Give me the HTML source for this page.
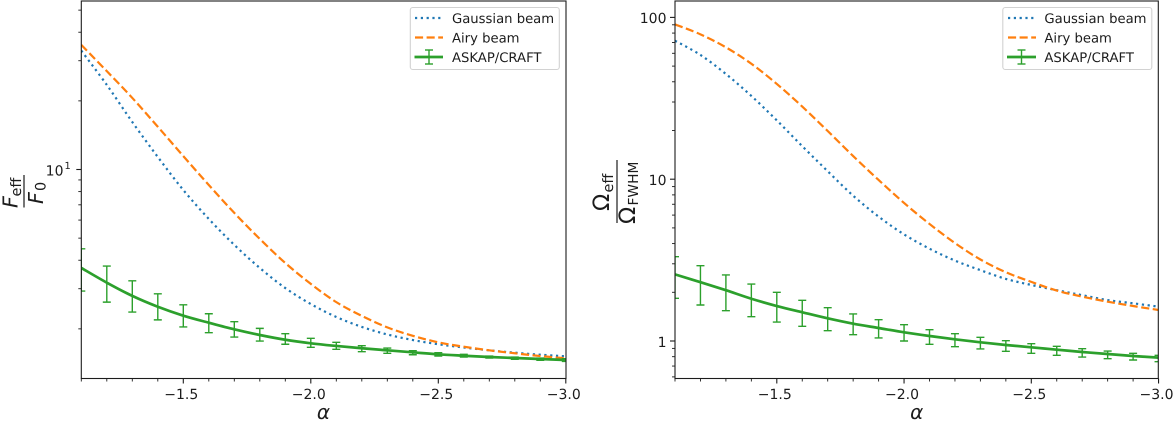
<!DOCTYPE html>
<html lang="en">
<head>
<meta charset="utf-8">
<title>Effective fluence and solid angle versus spectral index</title>
<style>
  html, body { margin: 0; padding: 0; background: #fff; }
  svg { display: block; text-rendering: geometricPrecision; }
  text { font-family: "DejaVu Sans", "Liberation Sans", sans-serif; fill: #1c1c1c; }
  .tick-text { font-size: 14px; }
  .legend-text { font-size: 13.2px; }
  .math { font-style: italic; }
</style>
</head>
<body>
<svg id="figure" xmlns="http://www.w3.org/2000/svg" width="1173" height="421" viewBox="0 0 1173 421">
  <defs>
    <clipPath id="clip-left"><rect x="81.3" y="1" width="484.7" height="377.5"/></clipPath>
    <clipPath id="clip-right"><rect x="675" y="1" width="483.3" height="377.5"/></clipPath>
  </defs>
  <g id="panel-left"></g>
  <g id="panel-right"></g>

  <g>
    <text class="math" x="0" y="0" font-size="20.6" transform="translate(17.5 208) rotate(-90)">F</text>
    <text x="0" y="0" font-size="14.4" transform="translate(21 196.5) rotate(-90)">eff</text>
    <line x1="24" y1="175" x2="24" y2="207.5" stroke="#1c1c1c" stroke-width="1.2"/>
    <text class="math" x="0" y="0" font-size="20.6" transform="translate(43 204) rotate(-90)">F</text>
    <text x="0" y="0" font-size="14.4" transform="translate(45.5 191) rotate(-90)">0</text>
  </g>
  <text class="math" x="323.5" y="419" font-size="20" text-anchor="middle">α</text>

  <g>
    <text x="0" y="0" font-size="22.5" transform="translate(609 211) rotate(-90)">Ω</text>
    <text x="0" y="0" font-size="14.4" transform="translate(613 192.5) rotate(-90)">eff</text>
    <line x1="617" y1="160" x2="617" y2="223" stroke="#1c1c1c" stroke-width="1.2"/>
    <text x="0" y="0" font-size="22.5" transform="translate(635 224) rotate(-90)">Ω</text>
    <text x="0" y="0" font-size="13.8" transform="translate(638 205.5) rotate(-90)">FWHM</text>
  </g>
  <text class="math" x="916.7" y="419" font-size="20" text-anchor="middle">α</text>

  <g>
    <rect x="410.3" y="7.5" width="149" height="62" rx="2.5" fill="#fff" fill-opacity="0.8" stroke="#d2d2d2" stroke-width="1.1"/>
    <g>
      <line x1="415" y1="18" x2="443" y2="18" stroke="#1f77b4" stroke-width="2.2" stroke-dasharray="2.2 3.6"/>
      <text class="legend-text" x="452" y="23">Gaussian beam</text>
    </g>
    <g>
      <line x1="415" y1="37.5" x2="443" y2="37.5" stroke="#ff7f0e" stroke-width="2.2" stroke-dasharray="8.1 3.5"/>
      <text class="legend-text" x="452" y="42.5">Airy beam</text>
    </g>
    <g>
      <line x1="414.5" y1="57" x2="443" y2="57" stroke="#2ca02c" stroke-width="2.8"/>
      <line x1="429" y1="50" x2="429" y2="64" stroke="#2ca02c" stroke-width="1.4"/>
      <line x1="425" y1="50" x2="433" y2="50" stroke="#2ca02c" stroke-width="1.4"/>
      <line x1="425" y1="64" x2="433" y2="64" stroke="#2ca02c" stroke-width="1.4"/>
      <text class="legend-text" x="452" y="62">ASKAP/CRAFT</text>
    </g>
  </g>

  <g>
    <rect x="1002.8" y="7.5" width="149" height="62" rx="2.5" fill="#fff" fill-opacity="0.8" stroke="#d2d2d2" stroke-width="1.1"/>
    <g>
      <line x1="1008" y1="18" x2="1036" y2="18" stroke="#1f77b4" stroke-width="2.2" stroke-dasharray="2.2 3.6"/>
      <text class="legend-text" x="1044.4" y="23">Gaussian beam</text>
    </g>
    <g>
      <line x1="1008" y1="37.5" x2="1036" y2="37.5" stroke="#ff7f0e" stroke-width="2.2" stroke-dasharray="8.1 3.5"/>
      <text class="legend-text" x="1044.4" y="42.5">Airy beam</text>
    </g>
    <g>
      <line x1="1007" y1="57" x2="1036" y2="57" stroke="#2ca02c" stroke-width="2.8"/>
      <line x1="1021.5" y1="50" x2="1021.5" y2="64" stroke="#2ca02c" stroke-width="1.4"/>
      <line x1="1017.5" y1="50" x2="1025.5" y2="50" stroke="#2ca02c" stroke-width="1.4"/>
      <line x1="1017.5" y1="64" x2="1025.5" y2="64" stroke="#2ca02c" stroke-width="1.4"/>
      <text class="legend-text" x="1044.4" y="62">ASKAP/CRAFT</text>
    </g>
  </g>
</svg>

<script>
const alphaValues = [-1.1,-1.2,-1.3,-1.4,-1.5,-1.6,-1.7,-1.8,-1.9,-2.0,-2.1,-2.2,-2.3,-2.4,-2.5,-2.6,-2.7,-2.8,-2.9,-3.0];
const xMajorTicks = [-1.5,-2.0,-2.5,-3.0];
const xMajorLabels = ['−1.5','−2.0','−2.5','−3.0'];
const xMinorTicks = [-1.1,-1.2,-1.3,-1.4,-1.6,-1.7,-1.8,-1.9,-2.1,-2.2,-2.3,-2.4,-2.6,-2.7,-2.8,-2.9];

const fluenceGaussian = [33.2,23.5,16.15,11.35,8.13,6.07,4.67,3.70,3.02,2.57,2.255,2.04,1.89,1.787,1.712,1.657,1.61,1.572,1.54,1.516];
const fluenceAiry = [35.2,27.0,20.6,15.4,11.45,8.55,6.45,4.96,3.89,3.15,2.62,2.28,2.03,1.865,1.746,1.67,1.61,1.563,1.52,1.486];
const fluenceAskap = [3.70,3.19,2.79,2.50,2.285,2.128,1.99,1.88,1.792,1.729,1.683,1.644,1.61,1.578,1.547,1.525,1.505,1.49,1.475,1.46];
const fluenceAskapUpper = [4.49,3.77,3.25,2.85,2.55,2.33,2.15,2.01,1.905,1.818,1.746,1.687,1.648,1.605,1.572,1.547,1.52,1.505,1.49,1.48];
const fluenceAskapLower = [2.93,2.62,2.37,2.19,2.04,1.924,1.842,1.769,1.712,1.66,1.627,1.588,1.563,1.54,1.52,1.505,1.49,1.471,1.456,1.439];
const fluenceYMajorTicks = [10];
const fluenceYMinorTicks = [2,3,4,5,6,7,8,9,20,30,40,50];

const angleGaussian = [71.8,58.6,44.7,32.7,23.1,16.0,11.2,7.91,5.87,4.56,3.72,3.14,2.74,2.42,2.22,2.06,1.92,1.79,1.71,1.63];
const angleAiry = [90.5,78.6,65.3,51.7,38.8,28.1,19.85,13.9,9.89,7.13,5.29,4.03,3.19,2.66,2.32,2.05,1.88,1.75,1.645,1.555];
const angleAskap = [2.58,2.31,2.06,1.825,1.645,1.505,1.38,1.279,1.203,1.132,1.074,1.024,0.982,0.945,0.914,0.884,0.855,0.831,0.808,0.789];
const angleAskapUpper = [3.32,2.92,2.56,2.25,2.00,1.784,1.606,1.469,1.354,1.261,1.174,1.109,1.054,1.004,0.962,0.927,0.896,0.867,0.839,0.816];
const angleAskapLower = [1.836,1.669,1.539,1.413,1.31,1.233,1.158,1.094,1.044,1.0,0.954,0.922,0.893,0.864,0.839,0.816,0.796,0.777,0.763,0.745];
const angleYMajorTicks = [1,10,100];
const angleYMajorLabels = ['1','10','100'];
const angleYMinorTicks = [0.6,0.7,0.8,0.9,2,3,4,5,6,7,8,9,20,30,40,50,60,70,80,90];

const NS = 'http://www.w3.org/2000/svg';
const INK = '#1c1c1c';

function xFluence(a) { return 81.3 + (-1.1 - a) * 255; }
function yFluence(v) { return 169.5 - 228 * Math.log10(v / 10); }
function xAngle(a) { return 675 + (-1.1 - a) * 254.5; }
function yAngle(v) { return 341 - 161.8 * Math.log10(v); }

function make(tag, attrs) {
  const el = document.createElementNS(NS, tag);
  Object.keys(attrs).forEach(function (k) { el.setAttribute(k, attrs[k]); });
  return el;
}

function smoothPath(xs, ys) {
  let d = 'M' + xs[0].toFixed(2) + ' ' + ys[0].toFixed(2);
  for (let i = 0; i < xs.length - 1; i++) {
    const p0 = Math.max(i - 1, 0), p3 = Math.min(i + 2, xs.length - 1);
    const c1x = xs[i] + (xs[i + 1] - xs[p0]) / 6;
    const c1y = ys[i] + (ys[i + 1] - ys[p0]) / 6;
    const c2x = xs[i + 1] - (xs[p3] - xs[i]) / 6;
    const c2y = ys[i + 1] - (ys[p3] - ys[i]) / 6;
    d += 'C' + c1x.toFixed(2) + ' ' + c1y.toFixed(2) + ' ' + c2x.toFixed(2) + ' ' + c2y.toFixed(2) + ' ' + xs[i + 1].toFixed(2) + ' ' + ys[i + 1].toFixed(2);
  }
  return d;
}

function drawCurve(group, xFn, yFn, values, stroke, width, dash) {
  const path = make('path', {
    d: smoothPath(alphaValues.map(xFn), values.map(yFn)),
    fill: 'none',
    stroke: stroke,
    'stroke-width': width
  });
  if (dash) path.setAttribute('stroke-dasharray', dash);
  group.appendChild(path);
  return path;
}

function drawXTicks(parent, xFn, axisBottom) {
  xMinorTicks.forEach(function (a) {
    const tick = make('line', { x1: xFn(a), x2: xFn(a), y1: axisBottom, y2: axisBottom + 3, stroke: INK, 'stroke-width': 0.9 });
    
    
    parent.appendChild(tick);
  });
  xMajorTicks.forEach(function (a, i) {
    const tick = make('line', { x1: xFn(a), x2: xFn(a), y1: axisBottom, y2: axisBottom + 5, stroke: INK, 'stroke-width': 1.1 });
    
    
    parent.appendChild(tick);
    const label = make('text', { x: xFn(a) - 2, y: 399, 'text-anchor': 'middle', class: 'tick-text' });
    
    
    label.textContent = xMajorLabels[i];
    parent.appendChild(label);
  });
}

function drawYTicks(parent, yFn, axisLeft, majors, minors) {
  minors.forEach(function (v) {
    const tick = make('line', { x1: axisLeft - 3, x2: axisLeft, y1: yFn(v), y2: yFn(v), stroke: INK, 'stroke-width': 0.9 });
    
    
    parent.appendChild(tick);
  });
  majors.forEach(function (v) {
    const tick = make('line', { x1: axisLeft - 5, x2: axisLeft, y1: yFn(v), y2: yFn(v), stroke: INK, 'stroke-width': 1.1 });
    
    
    parent.appendChild(tick);
  });
}

function drawErrorBars(parent, xFn, yFn, upper, lower) {
  alphaValues.forEach(function (a, i) {
    const x = xFn(a), yTop = yFn(upper[i]), yBottom = yFn(lower[i]);
    const bar = make('path', {
      d: 'M' + x + ' ' + yTop + 'V' + yBottom + 'M' + (x - 4) + ' ' + yTop + 'H' + (x + 4) + 'M' + (x - 4) + ' ' + yBottom + 'H' + (x + 4),
      fill: 'none',
      stroke: '#2ca02c',
      'stroke-width': 1.4
    });
    
    
    parent.appendChild(bar);
  });
}

function drawSpines(parent, left, right) {
  const frame = make('rect', { x: left, y: 1, width: right - left, height: 377.5, fill: 'none', stroke: INK, 'stroke-width': 1.1 });
  
  
  parent.appendChild(frame);
}

function drawPanel(panelId, clipId, xFn, yFn, left, right, gaussian, airy, askap, upper, lower) {
  const root = document.getElementById(panelId);
  const plot = make('g', { 'clip-path': 'url(#' + clipId + ')' });
  
  
  root.appendChild(plot);

  const gaussianLine = drawCurve(plot, xFn, yFn, gaussian, '#1f77b4', 2.2, '2.2 3.6');
  
  

  const airyLine = drawCurve(plot, xFn, yFn, airy, '#ff7f0e', 2.2, '8.1 3.5');
  
  

  drawErrorBars(plot, xFn, yFn, upper, lower);

  const askapLine = drawCurve(plot, xFn, yFn, askap, '#2ca02c', 2.7, null);
  
  

  drawSpines(root, left, right);
  drawXTicks(root, xFn, 378.5);
  return root;
}

const fluenceRoot = drawPanel('panel-left', 'clip-left', xFluence, yFluence, 81.3, 566, fluenceGaussian, fluenceAiry, fluenceAskap, fluenceAskapUpper, fluenceAskapLower);
drawYTicks(fluenceRoot, yFluence, 81.3, fluenceYMajorTicks, fluenceYMinorTicks);
fluenceYMajorTicks.forEach(function (v) {
  const base = make('text', { x: 63.5, y: yFluence(v) + 6, 'text-anchor': 'end', class: 'tick-text' });
  
  
  base.textContent = String(v);
  fluenceRoot.appendChild(base);
  const power = make('text', { x: 64.5, y: yFluence(v) - 0.5, 'font-size': 9.8 });
  
  
  power.textContent = '1';
  fluenceRoot.appendChild(power);
});

const angleRoot = drawPanel('panel-right', 'clip-right', xAngle, yAngle, 675, 1158.3, angleGaussian, angleAiry, angleAskap, angleAskapUpper, angleAskapLower);
drawYTicks(angleRoot, yAngle, 675, angleYMajorTicks, angleYMinorTicks);
angleYMajorTicks.forEach(function (v, i) {
  const label = make('text', { x: 666.5, y: yAngle(v) + 5.8, 'text-anchor': 'end', class: 'tick-text' });
  
  
  label.textContent = angleYMajorLabels[i];
  angleRoot.appendChild(label);
});
</script>
</body>
</html>
